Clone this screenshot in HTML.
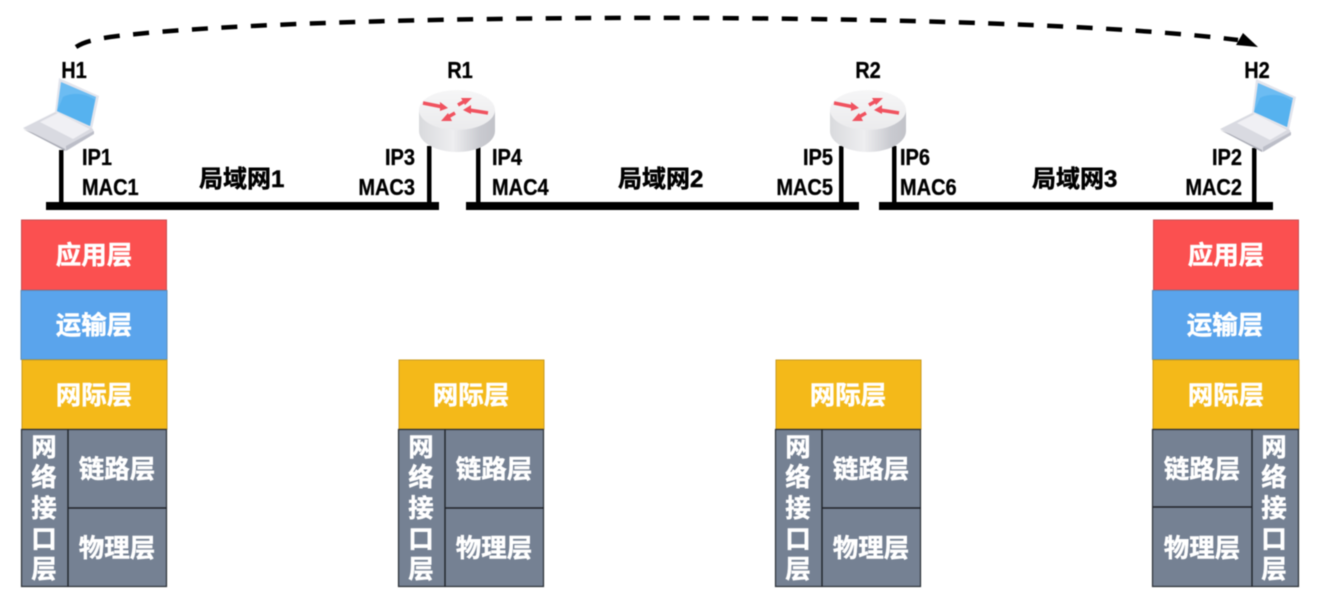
<!DOCTYPE html>
<html>
<head>
<meta charset="utf-8">
<style>
html,body{margin:0;padding:0;background:#fff;width:1326px;height:605px;overflow:hidden}
svg{display:block;filter:blur(0.4px)}
.l{font:bold 23px "Liberation Sans",sans-serif;fill:#000;stroke:#000;stroke-width:.3px}
.z{font:bold 25.5px "Liberation Sans","Noto Sans CJK SC",sans-serif;fill:#fff;text-anchor:middle;stroke:#fff;stroke-width:.45px}
.n{font:bold 24px "Liberation Sans","Noto Sans CJK SC",sans-serif;fill:#000;stroke:#000;stroke-width:.5px}
.e{text-anchor:end}
.m{text-anchor:middle}
</style>
</head>
<body>
<svg width="1326" height="605" viewBox="0 0 1326 605" xmlns="http://www.w3.org/2000/svg">
<defs>
<linearGradient id="rs" x1="0" x2="1" y1="0" y2="0">
<stop offset="0" stop-color="#d9dadd"/><stop offset=".45" stop-color="#eeeef0"/><stop offset=".8" stop-color="#c9cad0"/><stop offset="1" stop-color="#c2c3c9"/>
</linearGradient>
<linearGradient id="rt" x1="0" x2="0" y1="0" y2="1">
<stop offset="0" stop-color="#f6f6f7"/><stop offset="1" stop-color="#ebebed"/>
</linearGradient>
<g id="laptop">
<polygon points="59,78 99,96 92,129 55,112" fill="#e2e4ec"/>
<polygon points="61,82 96,97 90,126 57,111" fill="#6cbcf2"/>
<path d="M63,97 C72,92 86,93 95,100 L90,126 L57,111 Z" fill="#56b2ef"/>
<polygon points="55,112 93,129 94,133 65,151 23,128" fill="#d9dae1"/>
<polygon points="40,122 58,113 90,129 73,139" fill="#f0f0f4"/>
<polygon points="33,133 65,149 65,151 23,129" fill="#a9abb5"/>
<polygon points="66,146 94,131 94,134 66,151" fill="#bcbec8"/>
</g>
<g id="router">
<path d="M-38,0 V21 A38,21 0 0 0 38,21 V0 Z" fill="url(#rs)"/>
<ellipse cx="0" cy="0" rx="38" ry="20" fill="url(#rt)"/>
<g fill="#f0525f" stroke="#f0525f">
<path d="M-34,-7 L-14,-3" stroke-width="3.5" fill="none"/><polygon points="-9,-2 -17,-8 -17,1" stroke="none"/>
<path d="M1,-5 L8,-9" stroke-width="3.5" fill="none"/><polygon points="15,-12 4,-12 8,-5" stroke="none"/>
<path d="M31,3 L12,0" stroke-width="3.5" fill="none"/><polygon points="6,0 14,-5 14,4" stroke="none"/>
<path d="M-2,3 L-9,7" stroke-width="3.5" fill="none"/><polygon points="-16,11 -5,11 -9,3" stroke="none"/>
</g>
</g>
</defs>

<!-- dashed curve -->
<path d="M76,47 C85,41 98,39 110,37 C300,12 1000,10 1238,40" fill="none" stroke="#000" stroke-width="4.5" stroke-dasharray="16 13.5"/>
<polygon points="1258,47 1243,33 1236,45" fill="#000"/>

<!-- bars and stems -->
<g fill="#000">
<rect x="46" y="202" width="393" height="8"/>
<rect x="466" y="202" width="393" height="8"/>
<rect x="879" y="202" width="394" height="8"/>
<rect x="59" y="150" width="4.5" height="54"/>
<rect x="427" y="146" width="4.5" height="58"/>
<rect x="476" y="146" width="4.5" height="58"/>
<rect x="839" y="146" width="4.5" height="58"/>
<rect x="892" y="146" width="4.5" height="58"/>
<rect x="1252" y="148" width="4.5" height="56"/>
</g>

<use href="#laptop"/>
<use href="#laptop" transform="translate(1197,1)"/>
<use href="#router" transform="translate(457,110)"/>
<use href="#router" transform="translate(868,110)"/>

<!-- labels -->
<text class="l m" transform="translate(74,78) scale(.87,1)">H1</text>
<text class="l m" transform="translate(460,78) scale(.87,1)">R1</text>
<text class="l m" transform="translate(868,78) scale(.87,1)">R2</text>
<text class="l m" transform="translate(1257,78) scale(.87,1)">H2</text>

<text class="l" transform="translate(82,165) scale(.87,1)">IP1</text>
<text class="l" transform="translate(82,195) scale(.87,1)">MAC1</text>
<text class="l e" transform="translate(415,165) scale(.87,1)">IP3</text>
<text class="l e" transform="translate(415,195) scale(.87,1)">MAC3</text>
<text class="l" transform="translate(492,165) scale(.87,1)">IP4</text>
<text class="l" transform="translate(492,195) scale(.87,1)">MAC4</text>
<text class="l e" transform="translate(833,165) scale(.87,1)">IP5</text>
<text class="l e" transform="translate(833,195) scale(.87,1)">MAC5</text>
<text class="l" transform="translate(900,165) scale(.87,1)">IP6</text>
<text class="l" transform="translate(900,195) scale(.87,1)">MAC6</text>
<text class="l e" transform="translate(1242,165) scale(.87,1)">IP2</text>
<text class="l e" transform="translate(1242,195) scale(.87,1)">MAC2</text>

<text class="n" x="199" y="187">局域网1</text>
<text class="n" x="618" y="187">局域网2</text>
<text class="n" x="1032" y="187">局域网3</text>

<!-- H1 stack -->
<rect x="21.5" y="220" width="145" height="70" fill="#fb5050" stroke="#c94c50" stroke-width="1"/>
<rect x="21" y="290.5" width="146" height="69" fill="#5aa4ec" stroke="#5b8db8" stroke-width="1"/>
<rect x="22" y="360" width="145" height="69" fill="#f4b919" stroke="#c99c20" stroke-width="1"/>
<rect x="21.5" y="429.5" width="145" height="157" fill="#758193" stroke="#2b2f36" stroke-width="1.2"/>
<path d="M68,429 V587 M68,508 H167" stroke="#20242a" stroke-width="1.4" fill="none"/>
<text class="z" x="94" y="264">应用层</text>
<text class="z" x="94" y="334">运输层</text>
<text class="z" x="94" y="404">网际层</text>
<text class="z" x="117" y="478">链路层</text>
<text class="z" x="117" y="557">物理层</text>
<text class="z" x="44" y="456">网</text><text class="z" x="44" y="486">络</text><text class="z" x="44" y="517">接</text><text class="z" x="44" y="548">口</text><text class="z" x="44" y="578">层</text>

<!-- R1 stack -->
<rect x="399" y="360" width="145" height="69" fill="#f4b919" stroke="#c99c20" stroke-width="1"/>
<rect x="398.5" y="429.5" width="145" height="157" fill="#758193" stroke="#2b2f36" stroke-width="1.2"/>
<path d="M445,429 V587 M445,508 H544" stroke="#20242a" stroke-width="1.4" fill="none"/>
<text class="z" x="471" y="404">网际层</text>
<text class="z" x="494" y="478">链路层</text>
<text class="z" x="494" y="557">物理层</text>
<text class="z" x="421" y="456">网</text><text class="z" x="421" y="486">络</text><text class="z" x="421" y="517">接</text><text class="z" x="421" y="548">口</text><text class="z" x="421" y="578">层</text>

<!-- R2 stack -->
<rect x="776" y="360" width="145" height="69" fill="#f4b919" stroke="#c99c20" stroke-width="1"/>
<rect x="775.5" y="429.5" width="145" height="157" fill="#758193" stroke="#2b2f36" stroke-width="1.2"/>
<path d="M822,429 V587 M822,508 H921" stroke="#20242a" stroke-width="1.4" fill="none"/>
<text class="z" x="848" y="404">网际层</text>
<text class="z" x="871" y="478">链路层</text>
<text class="z" x="871" y="557">物理层</text>
<text class="z" x="798" y="456">网</text><text class="z" x="798" y="486">络</text><text class="z" x="798" y="517">接</text><text class="z" x="798" y="548">口</text><text class="z" x="798" y="578">层</text>

<!-- H2 stack -->
<rect x="1153.5" y="220" width="145" height="70" fill="#fb5050" stroke="#c94c50" stroke-width="1"/>
<rect x="1152.5" y="290.5" width="146" height="69" fill="#5aa4ec" stroke="#5b8db8" stroke-width="1"/>
<rect x="1153" y="360" width="146" height="69" fill="#f4b919" stroke="#c99c20" stroke-width="1"/>
<rect x="1152.5" y="429.5" width="146" height="157" fill="#758193" stroke="#2b2f36" stroke-width="1.2"/>
<path d="M1252,429 V587 M1153,507 H1252" stroke="#20242a" stroke-width="1.4" fill="none"/>
<text class="z" x="1226" y="264">应用层</text>
<text class="z" x="1225" y="334">运输层</text>
<text class="z" x="1226" y="404">网际层</text>
<text class="z" x="1202" y="478">链路层</text>
<text class="z" x="1202" y="557">物理层</text>
<text class="z" x="1274" y="456">网</text><text class="z" x="1274" y="486">络</text><text class="z" x="1274" y="517">接</text><text class="z" x="1274" y="548">口</text><text class="z" x="1274" y="578">层</text>
</svg>
</body>
</html>
